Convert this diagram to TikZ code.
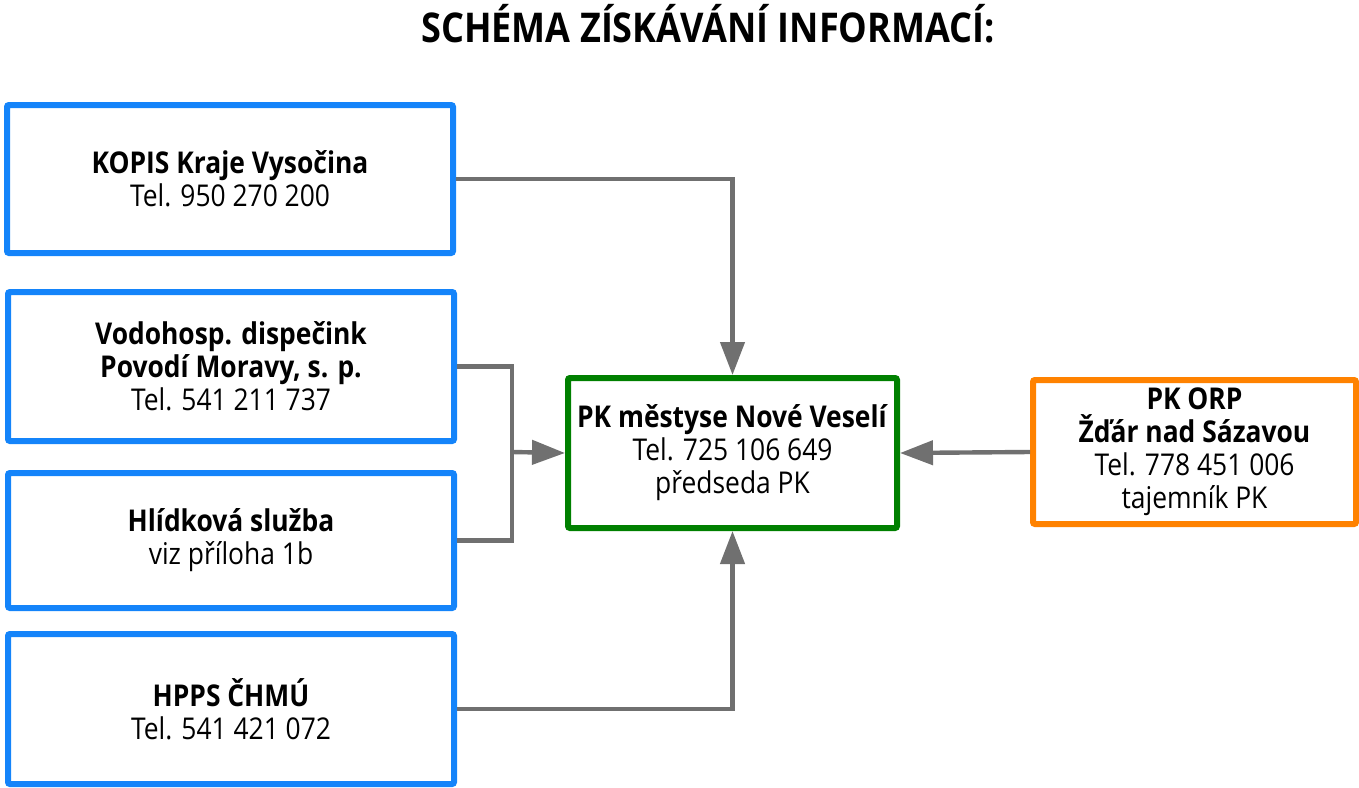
\documentclass[tikz,border=0pt]{standalone}
\usepackage{fontspec}
\setmainfont{Open Sans}[FakeStretch=0.88]
\usetikzlibrary{arrows.meta}
\definecolor{srcblue}{RGB}{20,132,250}
\definecolor{pkgreen}{RGB}{0,128,0}
\definecolor{orporange}{RGB}{255,130,0}
\definecolor{linkgray}{RGB}{112,112,112}

\begin{document}
\begin{tikzpicture}[x=0.5pt,y=-0.5pt,
    box/.style={line width=3pt,rounded corners=1pt,align=center,inner sep=0pt,
      font=\fontsize{15}{16.5}\selectfont},
    src/.style={box,draw=srcblue,minimum width=223pt},
    link/.style={draw=linkgray,line width=2.2pt},
    arr/.style={link,-{Triangle[length=16.5pt,width=12pt]}}]

        \useasboundingbox (0,0) rectangle (1359,787);
        \node at (708,24) (title) {\fontsize{20.5}{24}\selectfont\bfseries SCHÉMA ZÍSKÁVÁNÍ INFORMACÍ:};

        \node[src,minimum height=74pt] at (230,179) (kopis) {\textbf{KOPIS Kraje Vysočina}\\Tel. 950 270 200};
        \node[src,minimum height=74.5pt] at (231,366.5) (vodo) {\textbf{Vodohosp. dispečink}\\\textbf{Povodí Moravy, s. p.}\\Tel. 541 211 737};
        \node[src,minimum height=67.5pt] at (231,540.5) (hlid) {\textbf{Hlídková služba}\\viz příloha 1b};
        \node[src,minimum height=75pt] at (231,709) (hpps) {\textbf{HPPS ČHMÚ}\\Tel. 541 421 072};
        \node[box,draw=pkgreen,minimum width=164.5pt,minimum height=75pt] at (732.5,453) (pk) {\textbf{PK městyse Nové Veselí}\\Tel. 725 106 649\\předseda PK};
        \node[box,draw=orporange,minimum width=161.5pt,minimum height=72pt] at (1194.5,452) (orp) {\textbf{PK ORP}\\\textbf{Žďár nad Sázavou}\\Tel. 778 451 006\\tajemník PK};

        \coordinate (join) at (512,452);
        \draw[arr] (kopis.east) -| (pk.north);
        \draw[link] (vodo.east) -| (join) |- (hlid.east);
        \draw[arr] (join) -- (pk.west);
        \draw[arr] (hpps.east) -| (pk.south);
        \draw[arr] (orp.west) -- (pk.east);
            \end{tikzpicture}
\end{document}
